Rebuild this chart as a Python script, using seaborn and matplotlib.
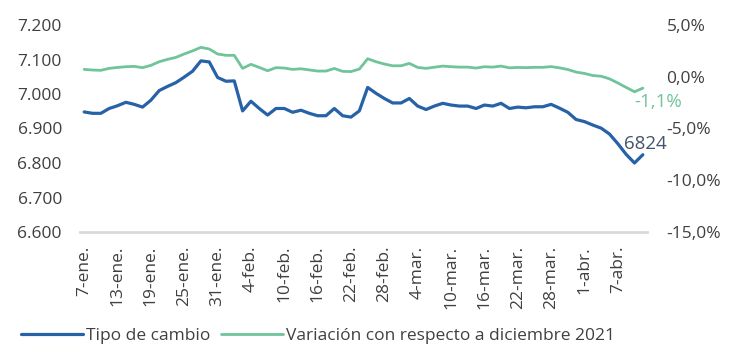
import numpy as np
import pandas as pd
import matplotlib
matplotlib.use("Agg")
import matplotlib.pyplot as plt
from matplotlib.ticker import FuncFormatter, FixedLocator
import seaborn as sns

# ---- data ----
tipo_cambio = [6948, 6944, 6944, 6958, 6966, 6976, 6970, 6962, 6982, 7010,
               7022, 7033, 7049, 7066, 7096, 7093, 7048, 7037, 7038, 6951,
               6979, 6958, 6939, 6958, 6958, 6947, 6953, 6944, 6937, 6937,
               6958, 6937, 6933, 6951, 7019, 7002, 6987, 6974, 6974, 6987,
               6965, 6955, 6965, 6973, 6968, 6965, 6965, 6958, 6968, 6965,
               6973, 6958, 6962, 6960, 6963, 6963, 6970, 6959, 6947, 6926,
               6920, 6910, 6901, 6884, 6856, 6825, 6800, 6824]
variacion = [0.71, 0.65, 0.62, 0.81, 0.90, 0.97, 1.00, 0.88, 1.10, 1.45,
             1.68, 1.87, 2.20, 2.50, 2.84, 2.68, 2.20, 2.07, 2.07, 0.81,
             1.20, 0.90, 0.58, 0.88, 0.84, 0.71, 0.77, 0.66, 0.55, 0.55,
             0.80, 0.52, 0.50, 0.74, 1.74, 1.45, 1.23, 1.06, 1.06, 1.29,
             0.90, 0.81, 0.92, 1.03, 0.97, 0.93, 0.93, 0.84, 0.97, 0.93,
             1.03, 0.86, 0.90, 0.88, 0.91, 0.91, 0.98, 0.86, 0.70, 0.45,
             0.32, 0.12, 0.05, -0.20, -0.60, -1.03, -1.45, -1.10]
tick_labels = ["7-ene.", "13-ene.", "19-ene.", "25-ene.", "31-ene.", "4-feb.",
               "10-feb.", "16-feb.", "22-feb.", "28-feb.", "4-mar.", "10-mar.",
               "16-mar.", "22-mar.", "28-mar.", "1-abr.", "7-abr."]
label_last_tc = "6824"
label_last_var = "-1,1%"
serie_tc = "Tipo de cambio"
serie_var = "Variación con respecto a diciembre 2021"

df = pd.DataFrame({"idx": np.arange(len(tipo_cambio)),
                   "tc": tipo_cambio, "var": variacion})

BLUE = "#2761A8"
GREEN = "#70C49A"
TXT = "#404040"

sns.set_theme(style="white")
plt.rcParams["font.family"] = ["Open Sans", "DejaVu Sans"]

W, H = 741, 355
fig = plt.figure(figsize=(W / 100, H / 100), dpi=100)
ax = fig.add_axes([80 / W, 1 - 232 / H, (647 - 80) / W, (232 - 25) / H])
ax2 = ax.twinx()

sns.lineplot(data=df, x="idx", y="tc", ax=ax, color=BLUE, linewidth=2.3,
             label=serie_tc, legend=False)
sns.lineplot(data=df, x="idx", y="var", ax=ax2, color=GREEN, linewidth=2.0,
             label=serie_var, legend=False)

n = len(tipo_cambio)
ax.set_xlim(-0.5, n - 0.5)
ax.set_ylim(6600, 7200)
ax2.set_ylim(-15, 5)
ax.set_yticks(np.arange(6600, 7201, 100))
ax2.set_yticks(np.arange(-15, 5.1, 5))
ax.yaxis.set_major_formatter(FuncFormatter(lambda v, p: f"{v:,.0f}".replace(",", ".")))
ax2.yaxis.set_major_formatter(FuncFormatter(lambda v, p: f"{v:.1f}%".replace(".", ",")))
ax.xaxis.set_major_locator(FixedLocator(np.arange(0, 4 * len(tick_labels), 4)))
ax.set_xticklabels(tick_labels, rotation=90)

for a in (ax, ax2):
    a.set_xlabel("")
    a.set_ylabel("")
    for s in a.spines.values():
        s.set_visible(False)
    a.tick_params(length=0, labelsize=12.5, labelcolor=TXT)
    a.grid(False)
ax.spines["bottom"].set_visible(True)
ax.spines["bottom"].set_color("#D9D9D9")
ax.spines["bottom"].set_linewidth(2)
ax.tick_params(axis="y", pad=13)
ax2.tick_params(axis="y", pad=14)
ax.tick_params(axis="x", pad=10)

ax.annotate(label_last_tc, xy=(n - 1, tipo_cambio[-1]), xytext=(2, 8),
            textcoords="offset points", ha="center", va="center",
            fontsize=13.5, color="#44546A")
ax2.annotate(label_last_var, xy=(n - 1, variacion[-1]), xytext=(11, -10),
             textcoords="offset points", ha="center", va="center",
             fontsize=13.5, color=GREEN)

h1, l1 = ax.get_legend_handles_labels()
h2, l2 = ax2.get_legend_handles_labels()
fig.legend(h1 + h2, l1 + l2, loc="center left", bbox_to_anchor=(14 / W, 1 - 336 / H),
           ncol=2, frameon=False, fontsize=12.5, handlelength=3.6,
           handletextpad=0.15, columnspacing=0.6, labelcolor=TXT,
           borderaxespad=0)

fig.savefig("out.png", dpi=100)
